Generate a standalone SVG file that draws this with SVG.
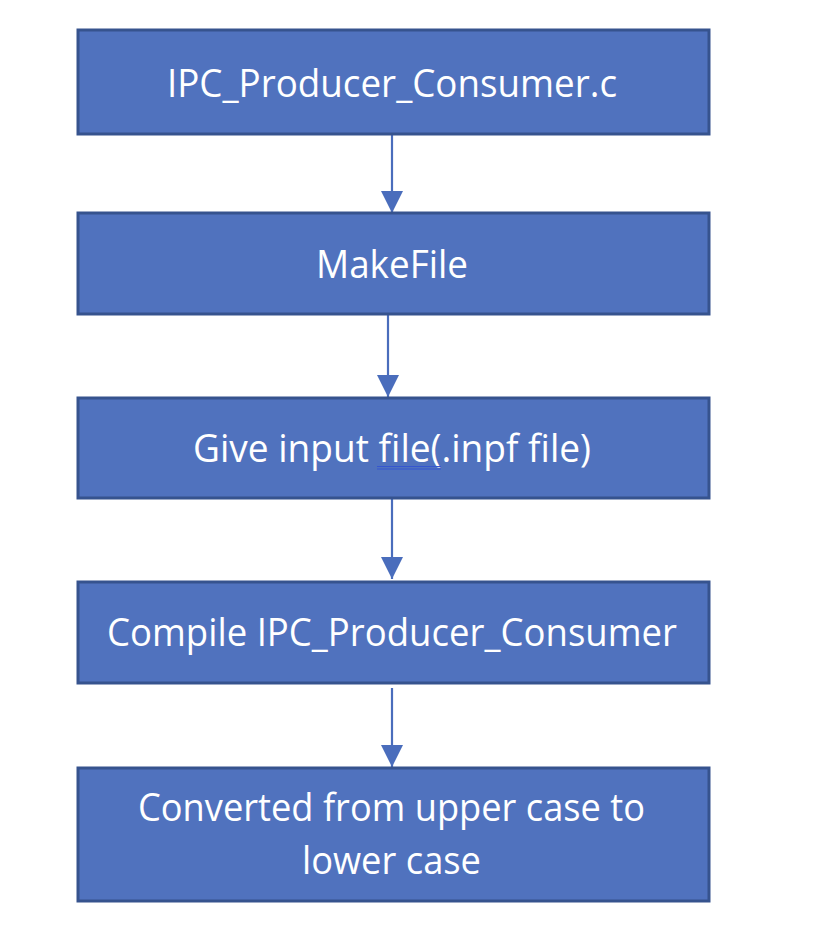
<svg xmlns="http://www.w3.org/2000/svg" width="828" height="952" viewBox="0 0 828 952">
<defs>
<style>
.box{fill:#5072BE;stroke:#36538E;stroke-width:3}
.lbl{fill:#ffffff;font-family:"Open Sans","Liberation Sans",sans-serif;font-size:39px;text-anchor:middle}
.conn{stroke:#4A6DBC;stroke-width:2.2;fill:none}
</style>
<marker id="ah" markerUnits="userSpaceOnUse" markerWidth="22" markerHeight="22" viewBox="0 0 20 20" refX="20" refY="10" orient="auto">
<path d="M0,0 L20,10 L0,20 Z" fill="#4A6DBC"/>
</marker>
</defs>
<rect width="828" height="952" fill="#ffffff"/>
<g id="connectors">
<line class="conn" x1="392" y1="135" x2="392" y2="213" marker-end="url(#ah)"/>
<line class="conn" x1="388" y1="315" x2="388" y2="397" marker-end="url(#ah)"/>
<line class="conn" x1="392" y1="499" x2="392" y2="579" marker-end="url(#ah)"/>
<line class="conn" x1="392" y1="688" x2="392" y2="767" marker-end="url(#ah)"/>
</g>
<g id="node1">
<rect class="box" x="78" y="30" width="631" height="104"/>
<text class="lbl" x="392" y="97" textLength="450" lengthAdjust="spacingAndGlyphs">IPC_Producer_Consumer.c</text>
</g>
<g id="node2">
<rect class="box" x="78" y="213" width="631" height="101"/>
<text class="lbl" x="392" y="278" textLength="152" lengthAdjust="spacingAndGlyphs">MakeFile</text>
</g>
<g id="node3">
<rect class="box" x="78" y="398" width="631" height="100"/>
<text class="lbl" x="392" y="462" textLength="398" lengthAdjust="spacingAndGlyphs">Give input file(.inpf file)</text>
<line x1="377" y1="466.5" x2="441" y2="466.5" stroke="#3556D0" stroke-width="1.2"/>
<line x1="377" y1="469" x2="441" y2="469" stroke="#3556D0" stroke-width="1.2"/>
</g>
<g id="node4">
<rect class="box" x="78" y="582" width="631" height="101"/>
<text class="lbl" x="392" y="646" textLength="570" lengthAdjust="spacingAndGlyphs">Compile IPC_Producer_Consumer</text>
</g>
<g id="node5">
<rect class="box" x="78" y="768" width="631" height="133"/>
<text class="lbl" x="391.5" y="821" textLength="507" lengthAdjust="spacingAndGlyphs">Converted from upper case to</text>
<text class="lbl" x="391.5" y="874" textLength="179" lengthAdjust="spacingAndGlyphs">lower case</text>
</g>
</svg>
